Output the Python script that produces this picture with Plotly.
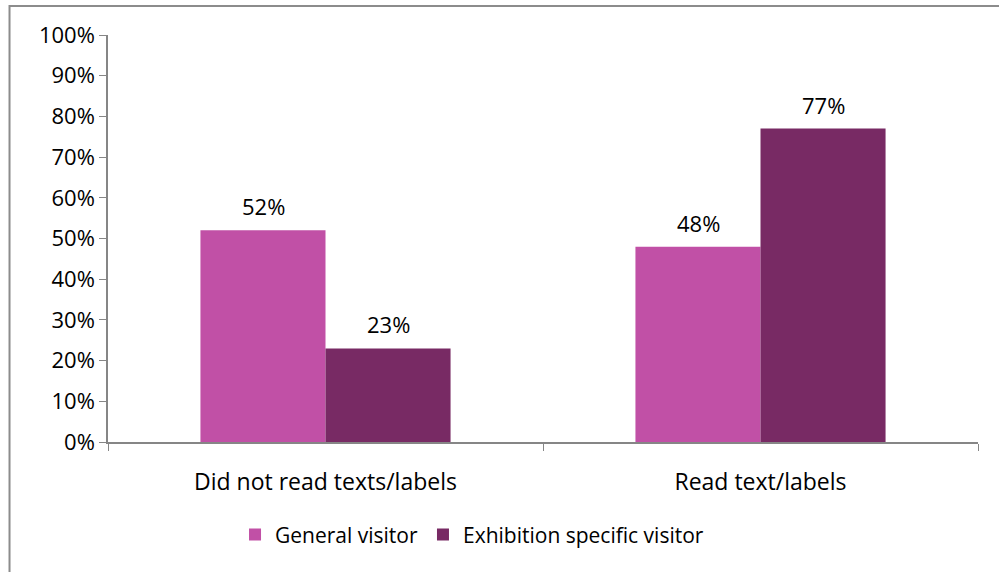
import plotly.graph_objects as go

categories = ["Did not read texts/labels", "Read text/labels"]
general_visitor = [0.52, 0.48]
exhibition_visitor = [0.23, 0.77]
series_names = ["General visitor", "Exhibition specific visitor"]
colors = ["#C150A6", "#782A64"]

FONT = "Open Sans"
FS = 22
fig = go.Figure()
for name, vals, col in zip(series_names, [general_visitor, exhibition_visitor], colors):
    fig.add_trace(go.Bar(x=categories, y=vals, name=name, marker=dict(color=col, line=dict(width=0))))

# data labels
for vals, shift in zip([general_visitor, exhibition_visitor], [-62.5, 62.5]):
    for c, v in zip(categories, vals):
        fig.add_annotation(x=c, y=v, text=f"{round(v*100)}%", showarrow=False,
                           xshift=shift, yshift=24, font=dict(family=FONT, size=FS, color="black"))

fig.update_layout(
    width=999, height=572,
    margin=dict(l=108, r=21, t=35, b=130),
    paper_bgcolor="white", plot_bgcolor="white",
    barmode="group", bargap=0.425, bargroupgap=0,
    font=dict(family=FONT, size=FS, color="black"),
    legend=dict(orientation="h", x=0.146, xanchor="left", y=-0.228, yanchor="middle",
                font=dict(family=FONT, size=21, color="black"), itemwidth=30),
    showlegend=True,
)
fig.update_yaxes(range=[0, 1], dtick=0.1, tickformat=".0%", showgrid=False, zeroline=False,
                 showline=True, linecolor="#868686", linewidth=1.5, ticks="outside", ticklen=7,
                 tickcolor="#868686", tickfont=dict(family=FONT, size=FS, color="black"))
fig.update_xaxes(showgrid=False, showline=True, linecolor="#868686", linewidth=1.5,
                 ticks="outside", tickson="boundaries", ticklen=7, tickcolor="#868686",
                 ticklabelstandoff=19, tickfont=dict(family=FONT, size=23, color="black"))

# outer chart border (top and left visible)
fig.add_shape(type="rect", xref="paper", yref="paper", x0=-0.1132, x1=1.5, y0=-0.6, y1=1.0713,
              line=dict(color="#8C8C8C", width=2), fillcolor="rgba(0,0,0,0)", layer="below")

fig.write_html("out.html", config={"displayModeBar": False},
               post_script="document.body.style.margin='0px';")
